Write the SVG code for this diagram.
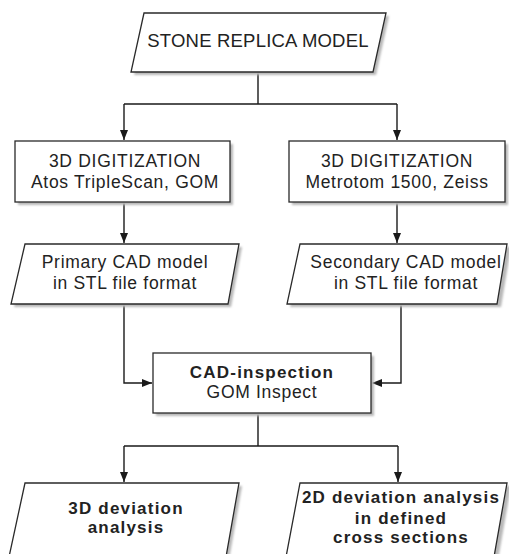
<svg xmlns="http://www.w3.org/2000/svg" width="509" height="554" viewBox="0 0 509 554">
<defs>
<marker id="ah" viewBox="0 0 10 10" refX="10" refY="5" markerWidth="10" markerHeight="10" markerUnits="userSpaceOnUse" orient="auto">
<path d="M0,1 L10,5 L0,9 z" fill="#1a1a1a"/>
</marker>
<filter id="blur" x="-10%" y="-10%" width="120%" height="130%"><feGaussianBlur stdDeviation="1"/></filter>
</defs>
<style>
.shape{fill:#fff;stroke:#2a2a2a;stroke-width:1.3}
.shadow{fill:#b8b8b8;filter:url(#blur)}
.t{font-family:"Liberation Sans",Arial,sans-serif;font-size:17.5px;fill:#222;text-anchor:middle;letter-spacing:0.7px}
.b{font-weight:bold;letter-spacing:1.2px;font-size:17px}
.c{fill:none;stroke:#1a1a1a;stroke-width:1.4}
</style>
<rect width="509" height="554" fill="#fff"/>
<g id="connectors">
<path class="c" d="M258,72 V104 M124,104 H397"/>
<path class="c" d="M124,104 V140" marker-end="url(#ah)"/>
<path class="c" d="M397,104 V140" marker-end="url(#ah)"/>
<path class="c" d="M124,202 V243" marker-end="url(#ah)"/>
<path class="c" d="M397,202 V243" marker-end="url(#ah)"/>
<path class="c" d="M124,304 V383 H152" marker-end="url(#ah)"/>
<path class="c" d="M401,304 V383 H372" marker-end="url(#ah)"/>
<path class="c" d="M258,413 V446 M124,446 H398"/>
<path class="c" d="M124,446 V482" marker-end="url(#ah)"/>
<path class="c" d="M398,446 V482" marker-end="url(#ah)"/>
</g>
<g id="stone">
<polygon class="shadow" points="147,16 389,16 376,75 134,75"/>
<polygon class="shape" points="144,13 386,13 373,72 131,72"/>
<text class="t" x="258" y="47" style="font-size:18.5px;letter-spacing:0.2px">STONE REPLICA MODEL</text>
</g>
<g id="digit1">
<rect class="shadow" x="18" y="144" width="215" height="61"/>
<rect class="shape" x="15" y="141" width="215" height="61"/>
<text class="t" x="125" y="167">3D DIGITIZATION</text>
<text class="t" x="125" y="188">Atos TripleScan, GOM</text>
</g>
<g id="digit2">
<rect class="shadow" x="292" y="144" width="216" height="61"/>
<rect class="shape" x="289" y="141" width="216" height="61"/>
<text class="t" x="397" y="167">3D DIGITIZATION</text>
<text class="t" x="397" y="188">Metrotom 1500, Zeiss</text>
</g>
<g id="primary">
<polygon class="shadow" points="28,247 242,247 231,307 14,307"/>
<polygon class="shape" points="25,244 239,244 228,304 11,304"/>
<text class="t" x="125" y="268">Primary CAD model</text>
<text class="t" x="125" y="289">in STL file format</text>
</g>
<g id="secondary">
<polygon class="shadow" points="303,247 511,247 501,307 290,307"/>
<polygon class="shape" points="300,244 507,244 497,304 287,304"/>
<text class="t" x="406" y="268">Secondary CAD model</text>
<text class="t" x="406" y="289">in STL file format</text>
</g>
<g id="inspection">
<rect class="shadow" x="156" y="356" width="218" height="60"/>
<rect class="shape" x="153" y="353" width="218" height="60"/>
<text class="t b" x="262" y="378">CAD-inspection</text>
<text class="t" x="262" y="398">GOM Inspect</text>
</g>
<g id="dev3d">
<polygon class="shadow" points="28,486 242,486 229,560 12,560"/>
<polygon class="shape" points="25,483 239,483 226,557 9,557"/>
<text class="t b" x="126" y="514">3D deviation</text>
<text class="t b" x="126" y="533">analysis</text>
</g>
<g id="dev2d">
<polygon class="shadow" points="303,486 511,486 498,560 289,560"/>
<polygon class="shape" points="300,483 507,483 494,557 286,557"/>
<text class="t b" x="401" y="503">2D deviation analysis</text>
<text class="t b" x="401" y="524">in defined</text>
<text class="t b" x="401" y="543">cross sections</text>
</g>
</svg>
